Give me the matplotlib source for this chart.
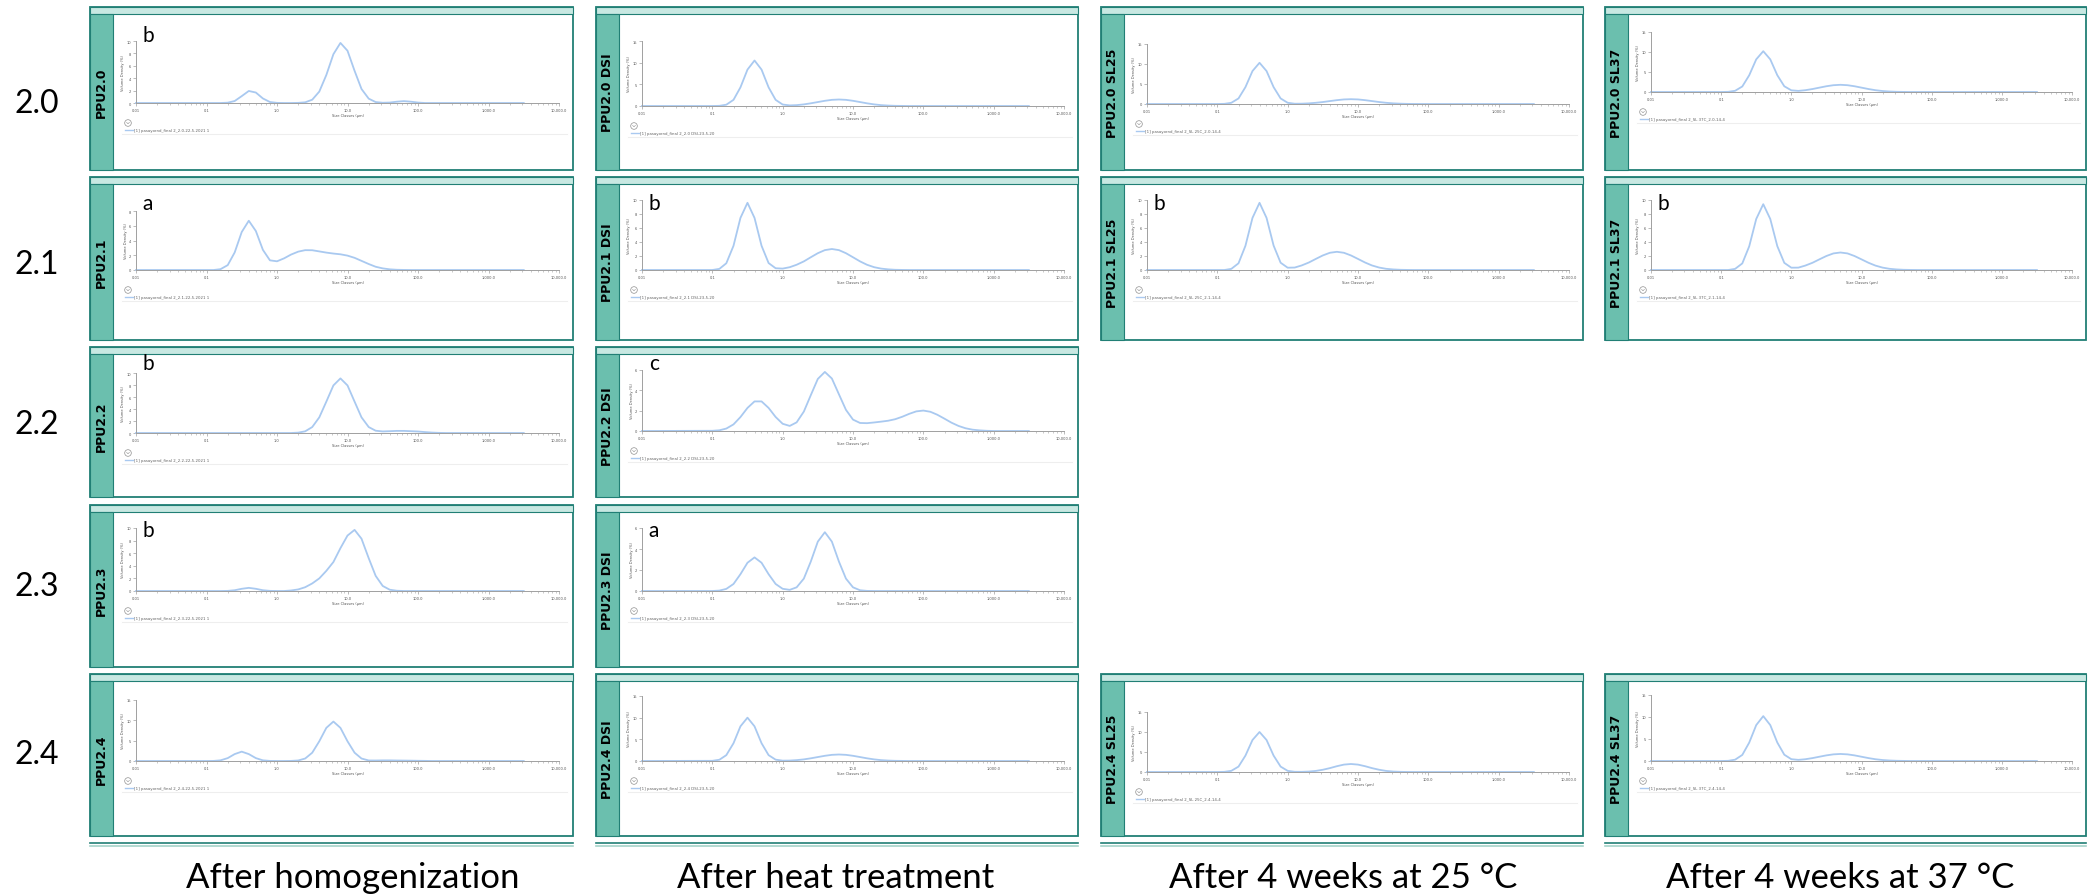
import numpy as np
import matplotlib.pyplot as plt
from matplotlib.patches import Rectangle, Circle

W, H = 2096, 895

# size classes (um) shared by all curves
sizes = [0.1, 0.126, 0.158, 0.2, 0.251, 0.316, 0.398, 0.501, 0.631, 0.794,
         1.0, 1.26, 1.58, 2.0, 2.51, 3.16, 3.98, 5.01, 6.31, 7.94,
         10, 12.6, 15.8, 20, 25.1, 31.6, 39.8, 50.1, 63.1, 79.4,
         100, 126, 158, 200, 251, 316, 398, 501, 631, 794, 1000]

# volume density (%)
v20 = [0, 0, 0, 0.05, 0.32, 1.11, 1.94, 1.69, 0.73, 0.16,
       0.02, 0, 0, 0.02, 0.11, 0.53, 1.84, 4.52, 7.87, 9.69,
       8.43, 5.19, 2.26, 0.70, 0.15, 0.04, 0.07, 0.21, 0.30, 0.21,
       0.07] + [0] * 10
v20_dsi = [0, 0.04, 0.30, 1.42, 4.3, 8.4, 10.5, 8.4, 4.3, 1.42,
           0.34, 0.14, 0.20, 0.37, 0.62, 0.91, 1.2, 1.42, 1.5, 1.42,
           1.2, 0.91, 0.62, 0.37, 0.20, 0.10, 0.04, 0.02] + [0] * 13
v20_sl25 = [0, 0.04, 0.30, 1.39, 4.22, 8.24, 10.3, 8.24, 4.22, 1.39,
            0.31, 0.07, 0.08, 0.16, 0.30, 0.49, 0.73, 0.96, 1.14, 1.2,
            1.14, 0.96, 0.73, 0.49, 0.30, 0.16, 0.08, 0.03, 0.01] + [0] * 12
v20_sl37 = [0, 0.04, 0.30, 1.38, 4.18, 8.16, 10.2, 8.16, 4.20, 1.43,
            0.42, 0.28, 0.45, 0.74, 1.09, 1.44, 1.70, 1.8, 1.70, 1.44,
            1.09, 0.74, 0.45, 0.24, 0.12, 0.05, 0.02] + [0] * 14
v21 = [0, 0, 0.11, 0.66, 2.38, 5.15, 6.68, 5.29, 2.73, 1.31,
       1.18, 1.58, 2.09, 2.49, 2.69, 2.68, 2.52, 2.36, 2.23, 2.13,
       1.95, 1.65, 1.24, 0.81, 0.44, 0.22, 0.09, 0.03, 0.01] + [0] * 12
v21_dsi = [0, 0.16, 0.96, 3.46, 7.44, 9.6, 7.44, 3.46, 0.99, 0.25,
           0.20, 0.40, 0.75, 1.23, 1.82, 2.4, 2.84, 3.0, 2.84, 2.4,
           1.82, 1.23, 0.75, 0.40, 0.20, 0.09, 0.03, 0.01] + [0] * 13
v21_sl25 = [0, 0, 0.16, 0.96, 3.46, 7.44, 9.6, 7.44, 3.49, 1.04,
            0.33, 0.35, 0.65, 1.07, 1.58, 2.08, 2.46, 2.6, 2.46, 2.08,
            1.58, 1.07, 0.65, 0.35, 0.17, 0.08, 0.03, 0.01] + [0] * 13
v21_sl37 = [0, 0, 0.16, 0.94, 3.38, 7.29, 9.4, 7.29, 3.41, 1.02,
            0.33, 0.34, 0.63, 1.03, 1.52, 2.0, 2.37, 2.5, 2.37, 2.0,
            1.52, 1.03, 0.63, 0.34, 0.17, 0.08, 0.03, 0.01] + [0] * 13
v22 = [0] * 10 + [0, 0, 0, 0.06, 0.28, 0.99, 2.61, 5.23, 7.93, 9.1,
                  7.93, 5.23, 2.61, 0.99, 0.38, 0.26, 0.30, 0.35, 0.35, 0.30,
                  0.25, 0.15, 0.07, 0.02] + [0] * 7
v22_dsi = [0.02, 0.07, 0.24, 0.65, 1.37, 2.27, 2.91, 2.91, 2.27, 1.38,
           0.71, 0.50, 0.85, 1.91, 3.52, 5.12, 5.81, 5.16, 3.61, 2.08,
           1.12, 0.79, 0.77, 0.84, 0.92, 1.01, 1.16, 1.40, 1.69, 1.93,
           2.01, 1.89, 1.6, 1.21, 0.82, 0.5, 0.27, 0.13, 0.06, 0.02, 0]
v23 = [0, 0, 0, 0.02, 0.12, 0.35, 0.5, 0.35, 0.12, 0.02,
       0, 0, 0.08, 0.25, 0.6, 1.2, 2.0, 3.2, 4.6, 6.8,
       8.8, 9.7, 8.3, 5.2, 2.4, 0.8, 0.2, 0.04] + [0] * 13
v23_dsi = [0, 0.04, 0.2, 0.67, 1.6, 2.69, 3.2, 2.69, 1.6, 0.67,
           0.21, 0.11, 0.35, 1.18, 2.8, 4.7, 5.6, 4.7, 2.8, 1.18,
           0.35, 0.07, 0.01] + [0] * 18
v24 = [0, 0.02, 0.16, 0.71, 1.7, 2.3, 1.7, 0.71, 0.16, 0.02,
       0, 0, 0.02, 0.13, 0.61, 2.04, 4.85, 8.15, 9.7, 8.15,
       4.85, 2.04, 0.61, 0.13, 0.12, 0.15, 0.15, 0.12, 0.1, 0.08,
       0.05, 0.03] + [0] * 9
v24_dsi = [0.04, 0.29, 1.35, 4.1, 8.0, 10, 8.0, 4.1, 1.35, 0.31,
           0.08, 0.10, 0.2, 0.37, 0.62, 0.91, 1.2, 1.42, 1.5, 1.42,
           1.2, 0.91, 0.62, 0.37, 0.2, 0.1, 0.04, 0.02] + [0] * 13
v24_sl25 = [0, 0.04, 0.29, 1.35, 4.1, 8.0, 10, 8.0, 4.1, 1.35,
            0.29, 0.05, 0.04, 0.11, 0.27, 0.56, 0.97, 1.45, 1.85, 2.0,
            1.85, 1.45, 0.97, 0.56, 0.27, 0.11, 0.04, 0.01] + [0] * 13
v24_sl37 = [0, 0.04, 0.30, 1.38, 4.18, 8.16, 10.2, 8.16, 4.2, 1.43,
            0.41, 0.26, 0.40, 0.66, 0.97, 1.28, 1.51, 1.6, 1.51, 1.28,
            0.97, 0.66, 0.40, 0.22, 0.11, 0.05, 0.02] + [0] * 14

row_titles = ["2.0", "2.1", "2.2", "2.3", "2.4"]
col_titles = ["After homogenization", "After heat treatment",
              "After 4 weeks at 25 °C", "After 4 weeks at 37 °C"]
x_ticks = [0.01, 0.1, 1, 10, 100, 1000, 10000]
x_tick_labels = ["0.01", "0.1", "1.0", "10.0", "100.0", "1,000.0", "10,000.0"]

# row, col, sample, letter, y max, y step, data, record name
panels = [
    (0, 0, "PPU2.0", "b", 10, 2, v20, "2_2.0-22-5-2021 1"),
    (0, 1, "PPU2.0 DSI", "", 15, 5, v20_dsi, "2_2.0 DSI-23-5-20"),
    (0, 2, "PPU2.0 SL25", "", 15, 5, v20_sl25, "2_SL 25C_2.0-14-4"),
    (0, 3, "PPU2.0 SL37", "", 15, 5, v20_sl37, "2_SL 37C_2.0-14-4"),
    (1, 0, "PPU2.1", "a", 8, 2, v21, "2_2.1-22-5-2021 1"),
    (1, 1, "PPU2.1 DSI", "b", 10, 2, v21_dsi, "2_2.1 DSI-23-5-20"),
    (1, 2, "PPU2.1 SL25", "b", 10, 2, v21_sl25, "2_SL 25C_2.1-14-4"),
    (1, 3, "PPU2.1 SL37", "b", 10, 2, v21_sl37, "2_SL 37C_2.1-14-4"),
    (2, 0, "PPU2.2", "b", 10, 2, v22, "2_2.2-22-5-2021 1"),
    (2, 1, "PPU2.2 DSI", "c", 6, 2, v22_dsi, "2_2.2 DSI-23-5-20"),
    (3, 0, "PPU2.3", "b", 10, 2, v23, "2_2.3-22-5-2021 1"),
    (3, 1, "PPU2.3 DSI", "a", 6, 2, v23_dsi, "2_2.3 DSI-23-5-20"),
    (4, 0, "PPU2.4", "", 15, 5, v24, "2_2.4-22-5-2021 1"),
    (4, 1, "PPU2.4 DSI", "", 15, 5, v24_dsi, "2_2.4 DSI-23-5-20"),
    (4, 2, "PPU2.4 SL25", "", 15, 5, v24_sl25, "2_SL 25C_2.4-14-4"),
    (4, 3, "PPU2.4 SL37", "", 15, 5, v24_sl37, "2_SL 37C_2.4-14-4"),
]

cols_x = [(90, 573), (596, 1078), (1101, 1583), (1605, 2086)]
rows_y = [(8, 171), (178, 341), (348, 498), (506, 668), (675, 837)]
# plot top / zero line, px below the panel top (each screenshot differs a bit)
plot_box = {
    (0, 0): (34, 96), (0, 1): (34, 99), (0, 2): (37, 97), (0, 3): (25, 85),
    (1, 0): (34, 93), (1, 1): (23, 93), (1, 2): (23, 93), (1, 3): (23, 93),
    (2, 0): (26, 86), (2, 1): (23, 84),
    (3, 0): (23, 86), (3, 1): (23, 86),
    (4, 0): (26, 87), (4, 1): (22, 87), (4, 2): (38, 98), (4, 3): (21, 87),
}
row_letter = [34, 32, 22, 31, 31]
row_label_y = [104, 265, 425, 587, 755]
col_label_x = [353, 836, 1343, 1840]

teal = "#217f75"
band = "#6bbfae"
strip = "#c8e8e2"
blue = "#a9c9f0"
axcol = "#a0a0a0"

fig = plt.figure(figsize=(W / 100, H / 100), dpi=100)
bg = fig.add_axes([0, 0, 1, 1])
bg.set_xlim(0, W)
bg.set_ylim(H, 0)
bg.axis("off")

for r, t in enumerate(row_titles):
    bg.text(37, row_label_y[r], t, fontsize=23, family=["Lato", "DejaVu Sans"],
            ha="center", va="center")
for c, t in enumerate(col_titles):
    bg.text(col_label_x[c], 878, t, fontsize=25, family=["Lato", "DejaVu Sans"],
            ha="center", va="center")
    x0, x1 = cols_x[c]
    bg.plot([x0, x1], [844, 844], color=teal, lw=1.2)
    bg.plot([x0, x1], [846.5, 846.5], color="#a6d3ca", lw=1.2)

for r, c, name, letter, ymax, ystep, vals, rec in panels:
    x0, x1 = cols_x[c]
    y0, y1 = rows_y[r]
    top_off, zero_off = plot_box[(r, c)]

    bg.add_patch(Rectangle((x0, y0), x1 - x0, y1 - y0, fc="white", ec=teal, lw=1.3))
    bg.add_patch(Rectangle((x0, y0), x1 - x0, 7, fc=strip, ec=teal, lw=0.8))
    bg.add_patch(Rectangle((x0, y0 + 7), 23, y1 - y0 - 7, fc=band, ec=teal, lw=0.8))
    bg.text(x0 + 11.5, (y0 + 7 + y1) / 2, name, rotation=90, ha="center", va="center",
            fontsize=9, fontweight="bold",
            family=["Liberation Sans Narrow", "DejaVu Sans"])
    if letter:
        bg.text(x0 + 58, y0 + row_letter[r], letter, fontsize=15, ha="center",
                va="baseline", family=["Lato", "DejaVu Sans"])

    # legend block under the plot
    cy = y0 + zero_off + 20
    bg.add_patch(Circle((x0 + 38, cy), 3.3, fc="white", ec="#909090", lw=0.5))
    bg.plot([x0 + 36.6, x0 + 38, x0 + 39.4], [cy - 0.6, cy + 0.8, cy - 0.6],
            color="#909090", lw=0.4)
    ly = cy + 7
    bg.plot([x0 + 35, x0 + 43], [ly, ly], color=blue, lw=1.0)
    bg.text(x0 + 44, ly, "[1] pasayornd_final " + rec, fontsize=2.8,
            color="#606060", va="center")
    bg.plot([x0 + 32, x1 - 6], [ly + 4, ly + 4], color="#eeeeee", lw=0.8)

    ax = fig.add_axes([(x0 + 46) / W, 1 - (y0 + zero_off) / H,
                       (x1 - 14 - x0 - 46) / W, (zero_off - top_off) / H])
    ax.patch.set_alpha(0)
    ax.plot(np.r_[0.01, sizes, 3160], np.r_[0, vals, 0], color=blue, lw=1.3,
            clip_on=False, solid_joinstyle="round")
    ax.set_xscale("log")
    ax.set_xlim(0.01, 10000)
    ax.set_ylim(0, ymax)
    ax.set_xticks(x_ticks)
    ax.set_xticklabels(x_tick_labels)
    ax.set_yticks(np.arange(0, ymax + 0.1, ystep))
    ax.tick_params(labelsize=2.6, colors="#555555", length=2.2, width=0.5, pad=1.2)
    ax.tick_params(which="minor", length=1.5, width=0.4, color=axcol)
    ax.tick_params(which="major", color=axcol)
    for s in ("top", "right"):
        ax.spines[s].set_visible(False)
    for s in ("left", "bottom"):
        ax.spines[s].set_color(axcol)
        ax.spines[s].set_linewidth(0.7)
    ax.set_xlabel("Size Classes (μm)", fontsize=2.6, color="#555555", labelpad=1)
    ax.set_ylabel("Volume Density (%)", fontsize=2.6, color="#555555", labelpad=1)

fig.savefig("out.png", dpi=100)
